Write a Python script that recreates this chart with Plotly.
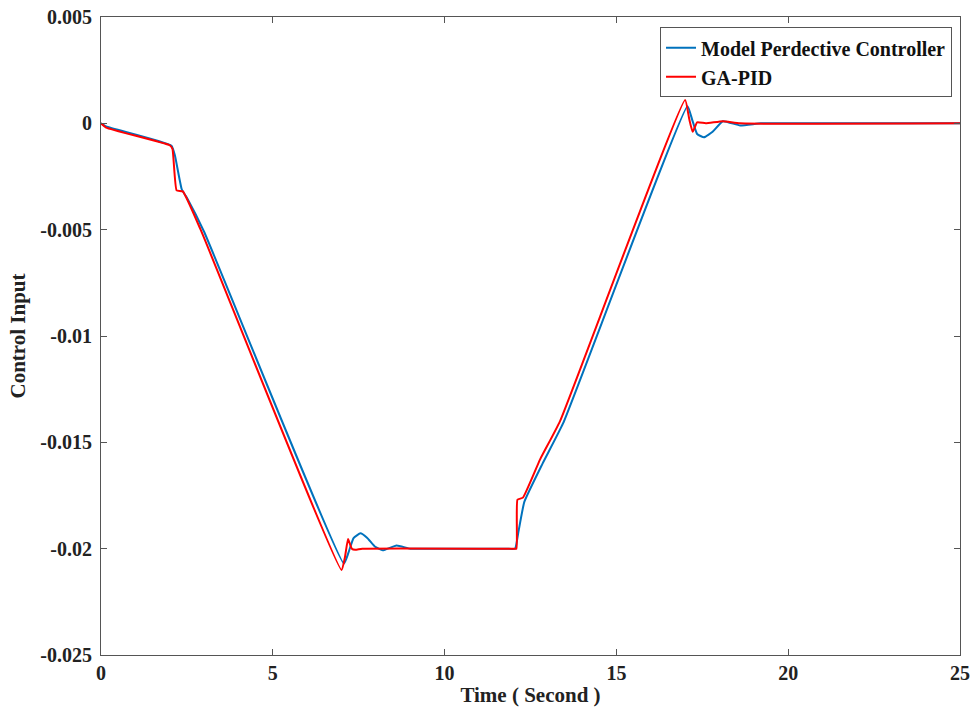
import plotly.graph_objects as go

# GA-PID (red)
t_pid = [0, 0.15, 2.0, 2.08, 2.2, 2.38, 2.9, 7.0, 7.1, 7.19, 7.3, 7.4, 7.6,
         11.8, 12.0, 12.09, 12.12, 12.28, 12.78, 13.36, 17.0, 17.12, 17.22,
         17.35, 17.6, 18.1, 18.6, 25]
u_pid = [0, -0.0002, -0.00103, -0.0012, -0.00315, -0.0032, -0.0050, -0.0210,
         -0.0204, -0.01955, -0.0200, -0.02005, -0.0200, -0.0200, -0.0200,
         -0.0200, -0.0177, -0.0176, -0.0158, -0.0140, 0.0011, 0.0002, -0.0004,
         0.00005, 0.0, 0.0001, 0.0, 0.0]

# Model Predictive Controller (blue)
t_mpc = [0, 0.15, 2.05, 2.15, 2.35, 2.5, 3.0, 7.07, 7.2, 7.35, 7.55, 7.75,
         7.97, 8.2, 8.6, 9.0, 9.5, 11.8, 12.05, 12.15, 12.32, 12.85, 13.45,
         17.07, 17.2, 17.35, 17.55, 17.8, 18.1, 18.6, 19.2, 20.0, 25]
u_mpc = [0, -0.00015, -0.00105, -0.0015, -0.0031, -0.0035, -0.0051, -0.0207,
         -0.0202, -0.0195, -0.01928, -0.0195, -0.0199, -0.02008, -0.01985,
         -0.0200, -0.0200, -0.0200, -0.0200, -0.0192, -0.0178, -0.0160,
         -0.0141, 0.0008, 0.0002, -0.0005, -0.00066, -0.0004, 0.0001, -0.0001,
         0.0, 0.0, 0.0]

x_ticks = [0, 5, 10, 15, 20, 25]
y_ticks = [0.005, 0, -0.005, -0.01, -0.015, -0.02, -0.025]
y_tick_text = ["0.005", "0", "-0.005", "-0.01", "-0.015", "-0.02", "-0.025"]

FONT = "Liberation Serif"
AX = "#555555"

fig = go.Figure()
fig.add_trace(go.Scatter(x=t_mpc, y=u_mpc, mode="lines",
                         name="<b>Model Perdective Controller</b>",
                         line=dict(color="#0072BD", width=2, shape="spline",
                                   smoothing=0.4)))
fig.add_trace(go.Scatter(x=t_pid, y=u_pid, mode="lines",
                         name="<b>GA-PID</b>",
                         line=dict(color="#FF0000", width=2, shape="spline",
                                   smoothing=0.4)))

axis_common = dict(showgrid=False, zeroline=False, showline=True,
                   linecolor=AX, linewidth=1, mirror="allticks",
                   ticks="inside", ticklen=6, tickcolor=AX, automargin=False,
                   tickfont=dict(family=FONT, size=20, color="#222222"))

fig.update_xaxes(range=[0, 25], tickvals=x_ticks,
                 ticktext=[f"<b>{v}</b>" for v in x_ticks],
                 title=dict(text="<b>Time ( Second )</b>",
                            font=dict(family=FONT, size=21, color="#222222"),
                            standoff=4),
                 **axis_common)
fig.update_yaxes(range=[-0.025, 0.005], tickvals=y_ticks,
                 ticktext=[f"<b>{s}</b>" for s in y_tick_text],
                 ticklabelstandoff=4,
                 title=dict(text="<b>Control Input</b>",
                            font=dict(family=FONT, size=21, color="#222222"),
                            standoff=8),
                 **axis_common)

fig.update_layout(
    width=975, height=720,
    margin=dict(l=101, r=15, t=17, b=65, autoexpand=False),
    paper_bgcolor="white", plot_bgcolor="white",
    font=dict(family=FONT, color="#222222"),
    legend=dict(x=0.9907, y=0.984, xanchor="right", yanchor="top",
                bgcolor="white", bordercolor=AX, borderwidth=1,
                font=dict(family=FONT, size=20, color="#111111"),
                tracegroupgap=0, itemwidth=30),
)

fig.write_html("out.html")
